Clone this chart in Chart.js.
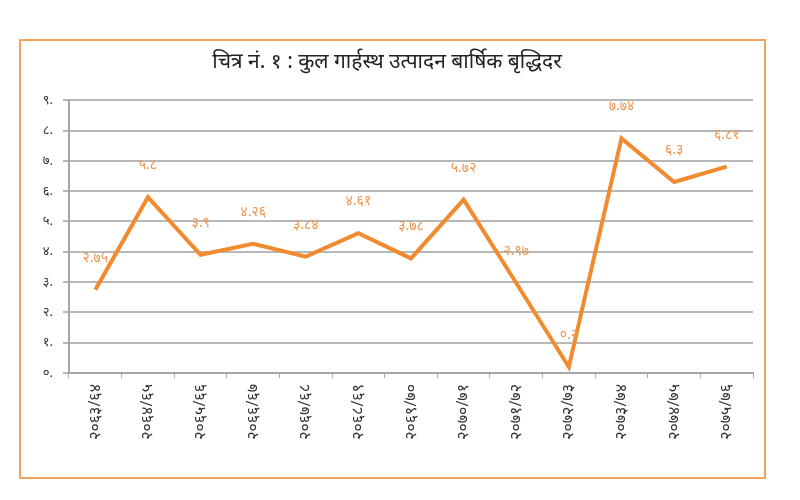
<!DOCTYPE html>
<html>
<head>
<meta charset="utf-8">
<script src="https://cdn.jsdelivr.net/npm/chart.js@4.4.1/dist/chart.umd.min.js"></script>
<style>
    body { margin: 0; background: #fff; }
    #box { position: absolute; left: 19px; top: 39px; width: 743px; height: 436px; border: 2px solid #f4a25a; }
    canvas { display: block; }
</style>
</head>
<body>
<div id="box"><canvas id="gdpChart" width="743" height="436"></canvas></div>
<script>
const years = ["२०६३/६४", "२०६४/६५", "२०६५/६६", "२०६६/६७", "२०६७/६८", "२०६८/६९", "२०६९/७०",
    "२०७०/७१", "२०७१/७२", "२०७२/७३", "२०७३/७४", "२०७४/७५", "२०७५/७६"];
const growth = [2.75, 5.8, 3.9, 4.26, 3.84, 4.61, 3.78, 5.72, 2.97, 0.2, 7.74, 6.3, 6.81];
const yTicks = ["०.", "१.", "२.", "३.", "४.", "५.", "६.", "७.", "८.", "९."];

const ORANGE = '#f28a30';
const FONT = "'Noto Sans', 'Noto Sans Devanagari', 'Lohit Devanagari', sans-serif";

const neDigits = "०१२३४५६७८९";
const toNe = s => String(s).replace(/[0-9]/g, d => neDigits[d]);

// draws the value above every point
const valueLabels = {
    id: 'valueLabels',
    afterDatasetsDraw(chart) {
        const ctx = chart.ctx;
        const meta = chart.getDatasetMeta(0);
        ctx.save();
        ctx.fillStyle = '#f0944a';
        ctx.font = "14px " + FONT;
        ctx.textAlign = 'center';
        ctx.textBaseline = 'middle';
        meta.data.forEach((pt, i) => {
            ctx.fillText(toNe(growth[i]), pt.x, pt.y - 32);
        });
        ctx.restore();
    }
};

new Chart(document.getElementById('gdpChart'), {
    type: 'line',
    data: {
        labels: years,
        datasets: [{
            data: growth,
            borderColor: ORANGE,
            borderWidth: 4,
            pointRadius: 0,
            tension: 0
        }]
    },
    options: {
        responsive: false,
        animation: false,
        layout: { padding: { left: 0, right: 11, top: 0, bottom: 0 } },
        plugins: {
            legend: { display: false },
            tooltip: { enabled: false },
            title: {
                display: true,
                text: 'चित्र नं. १ : कुल गार्हस्थ उत्पादन बार्षिक बृद्धिदर',
                color: '#222',
                font: { family: FONT, size: 21, weight: 'normal' },
                padding: { top: 8, bottom: 26 }
            }
        },
        scales: {
            x: {
                offset: true,
                grid: { display: true, drawOnChartArea: false, offset: true, color: '#a6a6a6', tickLength: 5 },
                border: { color: '#a6a6a6', width: 2 },
                ticks: { color: '#333', maxRotation: 90, minRotation: 90, autoSkip: false, padding: 6,
                    font: { family: FONT, size: 16 } },
                afterFit: s => { s.height = 104; }
            },
            y: {
                min: 0, max: 9,
                grid: { color: '#b8b8b8', lineWidth: 2, tickLength: 6 },
                border: { color: '#a6a6a6', width: 2 },
                ticks: { stepSize: 1, color: '#333', padding: 10, font: { family: FONT, size: 13 },
                    callback: v => yTicks[v] },
                afterFit: s => { s.width = 48; }
            }
        }
    },
    plugins: [valueLabels]
});
</script>
</body>
</html>
